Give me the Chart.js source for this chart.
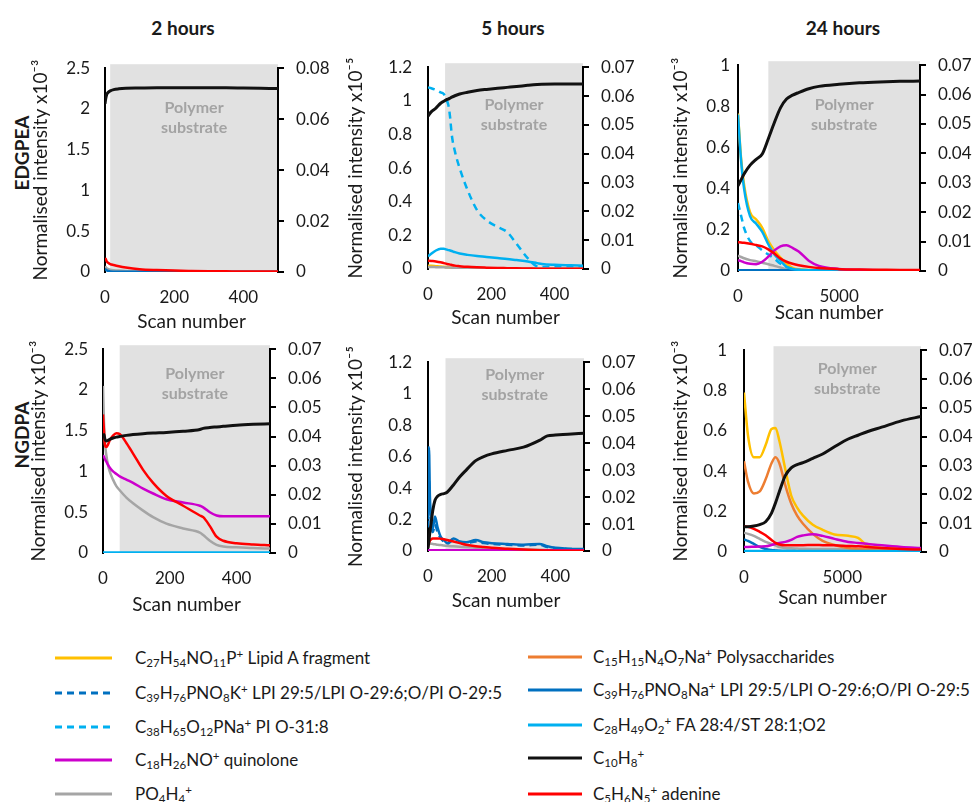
<!DOCTYPE html>
<html><head><meta charset="utf-8">
<script src="https://cdn.jsdelivr.net/npm/chart.js@4.4.1/dist/chart.umd.min.js"></script>
<style>
html,body{margin:0;padding:0;background:#fff}
body{width:974px;height:802px;position:relative;overflow:hidden;font-family:Lato,"Open Sans",sans-serif;color:#1a1a1a}
canvas{position:absolute}
.t{position:absolute;font-weight:bold;font-size:19px;white-space:nowrap;transform:translate(-50%,-50%)}
.rl{position:absolute;font-weight:bold;font-size:19px;white-space:nowrap;transform:translate(-50%,-50%) rotate(-90deg)}
.lg{position:absolute;height:24px;line-height:24px;font-size:17px;white-space:nowrap}
.lg svg{position:absolute;top:0}
sub{font-size:.68em;vertical-align:-.3em;line-height:0}
sup{font-size:.68em;vertical-align:.5em;line-height:0}
</style></head><body>
<div class="t" style="left:183px;top:27px">2 hours</div>
<div class="t" style="left:513px;top:27px">5 hours</div>
<div class="t" style="left:843px;top:27px">24 hours</div>
<div class="rl" style="left:21px;top:153px">EDGPEA</div>
<div class="rl" style="left:21px;top:435px">NGDPA</div>
<div id="legend"></div>
<script>
// ================= DATA =================
// x-axis tick labels
const TICKS_SHORT = [0,200,400];
const TICKS_LONG  = [0,5000];

// Panel A: 2 hours, EDGPEA
const A_scan  = [0,2,5,10,15,25,40,60,100,150,200,250,300,350,400,450,500];
const A_c10   = [0.066,0.068,0.0697,0.0706,0.0711,0.0716,0.0719,0.0721,0.0722,0.0723,0.0723,0.0723,0.0723,0.0723,0.0722,0.0721,0.072];
const A_aden  = [0.17,0.16,0.13,0.11,0.097,0.085,0.07,0.055,0.035,0.024,0.017,0.013,0.01,0.008,0.006,0.005,0.005];
const A_po4   = [0.07,0.06,0.045,0.035,0.028,0.022,0.017,0.013,0.01,0.008,0.006,0.005,0.004,0.004,0.003,0.003,0.003];
const A_lpiNa = [0.04,0.03,0.02,0.012,0.007,0.004,0.003,0.002,0.002,0.002,0.002,0.002,0.002,0.002,0.002,0.002,0.002];

// Panel B: 5 hours, EDGPEA
const B_scan  = [0,10,25,40,50,60,65,70,75,85,100,125,155,185,220,250,280,315,345,360,400,450,490];
const B_c10   = [0.053,0.0545,0.0558,0.0575,0.0582,0.0588,0.059,0.0593,0.0596,0.0601,0.0607,0.0613,0.0619,0.0623,0.0627,0.063,0.0633,0.0637,0.064,0.0641,0.0642,0.0642,0.0642];
const B_piO   = [1.08,1.075,1.065,1.05,1.04,1.0,0.97,0.9,0.8,0.7,0.6,0.47,0.35,0.29,0.25,0.22,0.15,0.065,0.015,0.012,0.012,0.012,0.012];
const B_fa    = [0.075,0.09,0.11,0.12,0.12,0.115,0.112,0.11,0.107,0.1,0.092,0.084,0.077,0.072,0.065,0.06,0.053,0.045,0.035,0.03,0.025,0.022,0.02];
const B_aden  = [0.05,0.048,0.045,0.04,0.035,0.03,0.028,0.026,0.024,0.02,0.017,0.013,0.01,0.008,0.006,0.005,0.004,0.003,0.002,0.002,0.002,0.002,0.002];
const B_lipidA= [0.02,0.019,0.017,0.015,0.013,0.011,0.01,0.009,0.008,0.007,0.006,0.005,0.004,0.003,0.003,0.002,0.002,0.002,0.002,0.002,0.002,0.002,0.002];
const B_po4   = [0.012,0.012,0.011,0.01,0.01,0.009,0.009,0.009,0.008,0.008,0.007,0.006,0.005,0.005,0.004,0.004,0.003,0.003,0.003,0.003,0.003,0.003,0.003];

// Panel C: 24 hours, EDGPEA
const C_scan  = [0,150,300,600,900,1200,1500,1800,2100,2400,2700,3000,3500,4000,5000,6000,7000,8000,9000];
const C_c10   = [0.029,0.031,0.033,0.036,0.038,0.0398,0.045,0.0505,0.0555,0.0585,0.0598,0.0607,0.062,0.0628,0.0635,0.064,0.0643,0.0645,0.0646];
const C_lipidA= [0.765,0.55,0.42,0.285,0.25,0.21,0.145,0.1,0.065,0.035,0.015,0.008,0.005,0.004,0.003,0.003,0.002,0.002,0.002];
const C_fa    = [0.76,0.54,0.4,0.265,0.23,0.19,0.13,0.08,0.05,0.02,0.01,0.006,0.004,0.003,0.003,0.002,0.002,0.002,0.002];
const C_piO   = [0.33,0.27,0.21,0.145,0.125,0.1,0.08,0.06,0.035,0.02,0.01,0.005,0.003,0.003,0.002,0.002,0.002,0.002,0.002];
const C_aden  = [0.14,0.139,0.137,0.132,0.126,0.12,0.105,0.085,0.06,0.045,0.035,0.028,0.02,0.014,0.009,0.007,0.006,0.005,0.005];
const C_quin  = [0.052,0.048,0.042,0.035,0.033,0.045,0.07,0.1,0.12,0.125,0.112,0.095,0.05,0.025,0.01,0.006,0.004,0.003,0.003];
const C_po4   = [0.075,0.068,0.062,0.053,0.047,0.04,0.033,0.025,0.017,0.01,0.007,0.005,0.004,0.003,0.003,0.003,0.003,0.003,0.003];
const C_lpiNa = [0.004,0.004,0.004,0.004,0.004,0.004,0.004,0.004,0.004,0.004,0.004,0.004,0.004,0.004,0.004,0.004,0.004,0.004,0.004];

// Panel D: 2 hours, NGDPA
const D_scan  = [0,3,6,10,15,20,30,40,50,70,90,120,150,190,240,290,300,320,340,360,400,450,500];
const D_c10   = [0.041,0.0405,0.039,0.0385,0.0387,0.039,0.0395,0.0398,0.04,0.0404,0.0407,0.041,0.0412,0.0414,0.0418,0.0424,0.0428,0.0431,0.0433,0.0435,0.0439,0.0442,0.0444];
const D_aden  = [1.7,1.5,1.32,1.3,1.33,1.38,1.44,1.47,1.46,1.35,1.22,1.02,0.86,0.7,0.58,0.46,0.44,0.33,0.2,0.15,0.12,0.105,0.095];
const D_quin  = [1.2,1.18,1.15,1.12,1.08,1.05,1.0,0.97,0.94,0.9,0.86,0.79,0.73,0.66,0.62,0.58,0.56,0.5,0.46,0.45,0.45,0.45,0.45];
const D_po4   = [2.05,1.6,1.35,1.2,1.08,1.0,0.9,0.82,0.77,0.68,0.61,0.52,0.44,0.36,0.3,0.25,0.22,0.15,0.1,0.08,0.07,0.06,0.055];
const D_fa    = [0.005,0.005,0.005,0.005,0.005,0.005,0.005,0.005,0.005,0.005,0.005,0.005,0.005,0.005,0.005,0.005,0.005,0.005,0.005,0.005,0.005,0.005,0.005];

// Panel E: 5 hours, NGDPA
const E_scan  = [0,3,6,10,15,22,30,40,50,60,80,100,120,150,175,200,250,300,350,375,400,440,490];
const E_c10   = [0.001,0.004,0.007,0.0105,0.015,0.0188,0.0203,0.021,0.0213,0.0218,0.0245,0.0275,0.03,0.0335,0.035,0.036,0.0373,0.0385,0.041,0.0427,0.043,0.0433,0.0437];
const E_lpiNa = [0.2,0.66,0.35,0.2,0.14,0.22,0.15,0.09,0.07,0.05,0.08,0.06,0.055,0.07,0.055,0.05,0.045,0.04,0.045,0.03,0.02,0.015,0.012];
const E_lpiK  = [0.15,0.45,0.28,0.17,0.12,0.17,0.12,0.08,0.06,0.045,0.07,0.055,0.05,0.06,0.05,0.045,0.04,0.035,0.04,0.025,0.018,0.013,0.01];
const E_aden  = [0.03,0.05,0.065,0.075,0.08,0.08,0.08,0.078,0.075,0.07,0.06,0.05,0.04,0.03,0.025,0.02,0.015,0.01,0.005,0.003,0.002,0.002,0.002];
const E_po4   = [0.05,0.05,0.048,0.046,0.045,0.043,0.04,0.038,0.035,0.033,0.03,0.027,0.024,0.02,0.018,0.016,0.012,0.01,0.008,0.007,0.006,0.005,0.005];
const E_quin  = [0.005,0.005,0.005,0.005,0.005,0.005,0.005,0.005,0.005,0.005,0.005,0.005,0.005,0.005,0.005,0.005,0.005,0.005,0.005,0.005,0.005,0.005,0.005];

// Panel F: 24 hours, NGDPA
const F_scan  = [0,200,500,800,1100,1400,1600,1800,2100,2400,2700,3000,3500,4000,4600,5300,5800,6300,7000,8000,9000];
const F_lipidA= [0.79,0.58,0.47,0.47,0.53,0.61,0.615,0.55,0.41,0.28,0.22,0.18,0.135,0.11,0.087,0.08,0.07,0.03,0.02,0.017,0.015];
const F_poly  = [0.45,0.35,0.29,0.3,0.36,0.44,0.47,0.44,0.33,0.24,0.18,0.14,0.09,0.055,0.035,0.02,0.015,0.012,0.01,0.01,0.01];
const F_c10   = [0.0088,0.0088,0.009,0.0095,0.0105,0.0135,0.017,0.021,0.0265,0.0292,0.0303,0.031,0.0325,0.034,0.0365,0.0392,0.0405,0.0418,0.0433,0.0455,0.047];
const F_aden  = [0.127,0.125,0.115,0.1,0.083,0.06,0.045,0.037,0.033,0.033,0.034,0.034,0.035,0.034,0.033,0.03,0.028,0.025,0.02,0.015,0.012];
const F_quin  = [0.025,0.025,0.026,0.027,0.028,0.035,0.04,0.045,0.05,0.06,0.075,0.082,0.088,0.08,0.065,0.05,0.045,0.04,0.033,0.025,0.02];
const F_po4   = [0.095,0.09,0.08,0.065,0.05,0.04,0.033,0.025,0.02,0.018,0.017,0.016,0.015,0.015,0.015,0.015,0.014,0.014,0.013,0.012,0.012];
const F_lpiNa = [0.063,0.055,0.04,0.025,0.015,0.01,0.008,0.006,0.005,0.005,0.004,0.004,0.004,0.004,0.004,0.004,0.004,0.004,0.004,0.004,0.004];
const F_fa    = [0.005,0.005,0.005,0.005,0.005,0.005,0.005,0.005,0.005,0.005,0.005,0.005,0.005,0.005,0.005,0.005,0.005,0.005,0.005,0.005,0.005];

// ================= STYLES =================
const SERIES = {
  lipidA:{label:'C27H54NO11P+ Lipid A fragment', html:'C<sub>27</sub>H<sub>54</sub>NO<sub>11</sub>P<sup>+</sup> Lipid A fragment', color:'#FFC000', dash:[], order:9},
  lpiK:  {label:'C39H76PNO8K+ LPI 29:5/LPI O-29:6;O/PI O-29:5', html:'C<sub>39</sub>H<sub>76</sub>PNO<sub>8</sub>K<sup>+</sup> LPI 29:5/LPI O-29:6;O/PI O-29:5', color:'#0070C0', dash:[7,5], order:8},
  piO:   {label:'C38H65O12PNa+ PI O-31:8', html:'C<sub>38</sub>H<sub>65</sub>O<sub>12</sub>PNa<sup>+</sup> PI O-31:8', color:'#00B0F0', dash:[7,5], order:7},
  quin:  {label:'C18H26NO+ quinolone', html:'C<sub>18</sub>H<sub>26</sub>NO<sup>+</sup> quinolone', color:'#CC00CC', dash:[], order:2},
  po4:   {label:'PO4H4+', html:'PO<sub>4</sub>H<sub>4</sub><sup>+</sup>', color:'#A5A5A5', dash:[], order:6},
  poly:  {label:'C15H15N4O7Na+ Polysaccharides', html:'C<sub>15</sub>H<sub>15</sub>N<sub>4</sub>O<sub>7</sub>Na<sup>+</sup> Polysaccharides', color:'#ED7D31', dash:[], order:5},
  lpiNa: {label:'C39H76PNO8Na+ LPI 29:5/LPI O-29:6;O/PI O-29:5', html:'C<sub>39</sub>H<sub>76</sub>PNO<sub>8</sub>Na<sup>+</sup> LPI 29:5/LPI O-29:6;O/PI O-29:5', color:'#0070C0', dash:[], order:4},
  fa:    {label:'C28H49O2+ FA 28:4/ST 28:1;O2', html:'C<sub>28</sub>H<sub>49</sub>O<sub>2</sub><sup>+</sup> FA 28:4/ST 28:1;O2', color:'#00B0F0', dash:[], order:3},
  c10:   {label:'C10H8+', html:'C<sub>10</sub>H<sub>8</sub><sup>+</sup>', color:'#111111', dash:[], order:0},
  aden:  {label:'C5H6N5+ adenine', html:'C<sub>5</sub>H<sub>6</sub>N<sub>5</sub><sup>+</sup> adenine', color:'#FF0000', dash:[], order:1}
};

const PANELS = [
  {plot:[105,57,278,272], xMax:500, xTicks:TICKS_SHORT, yMax:2.5, yStep:0.5, y2Max:0.08, y2Step:0.02, exp:'⁻³', shade:15, titleX:40, lpad:15, ty:40, xOff:50,
   scan:A_scan, series:{c10:A_c10, aden:A_aden, po4:A_po4, lpiNa:A_lpiNa}},
  {plot:[428,55,583,269], xMax:490, xTicks:TICKS_SHORT, yMax:1.2, yStep:0.2, y2Max:0.07, y2Step:0.01, exp:'⁻⁵', shade:54, titleX:355, lpad:16, ty:38, xOff:49,
   scan:B_scan, series:{c10:B_c10, piO:B_piO, fa:B_fa, aden:B_aden, lipidA:B_lipidA, po4:B_po4}},
  {plot:[738,57,920,271], xMax:9000, xTicks:TICKS_LONG, yMax:1, yStep:0.2, y2Max:0.07, y2Step:0.01, exp:'⁻³', shade:1500, titleX:680, lpad:8, ty:40, xOff:42,
   scan:C_scan, series:{c10:C_c10, lipidA:C_lipidA, fa:C_fa, piO:C_piO, aden:C_aden, quin:C_quin, po4:C_po4, lpiNa:C_lpiNa}},
  {plot:[103,338,270,553], xMax:500, xTicks:TICKS_SHORT, yMax:2.5, yStep:0.5, y2Max:0.07, y2Step:0.01, exp:'⁻³', shade:50, titleX:38, lpad:15, ty:25, xOff:52,
   scan:D_scan, series:{c10:D_c10, aden:D_aden, quin:D_quin, po4:D_po4, fa:D_fa}},
  {plot:[428,350,584,551], xMax:490, xTicks:TICKS_SHORT, yMax:1.2, yStep:0.2, y2Max:0.07, y2Step:0.01, exp:'⁻⁵', shade:55, titleX:355, lpad:16, ty:13, xOff:50,
   scan:E_scan, series:{c10:E_c10, lpiNa:E_lpiNa, lpiK:E_lpiK, aden:E_aden, po4:E_po4, quin:E_quin}},
  {plot:[744,337,921,552], xMax:9000, xTicks:TICKS_LONG, yMax:1, yStep:0.2, y2Max:0.07, y2Step:0.01, exp:'⁻³', shade:1500, titleX:680, lpad:17, ty:19, xOff:46,
   scan:F_scan, series:{c10:F_c10, lipidA:F_lipidA, poly:F_poly, aden:F_aden, quin:F_quin, po4:F_po4, lpiNa:F_lpiNa, fa:F_fa}}
];

const LEGEND_LEFT = ['lipidA','lpiK','piO','quin','po4'];
const LEGEND_RIGHT = ['poly','lpiNa','fa','c10','aden'];

// ================= RENDER =================
Chart.defaults.font.family = 'Lato, "Open Sans", sans-serif';
Chart.defaults.color = '#1a1a1a';
const fmt = v => String(+Number(v).toFixed(4));

const shadePlugin = {
  id:'shade',
  beforeDraw(chart, args, o){
    const {ctx, chartArea, scales} = chart;
    const x0 = scales.x.getPixelForValue(o.start);
    ctx.save();
    ctx.fillStyle = '#E1E1E1';
    ctx.fillRect(x0, chartArea.top - 4, chartArea.right - x0, chartArea.bottom - chartArea.top + 4);
    ctx.fillStyle = '#A3A3A3';
    ctx.font = 'bold 16px Lato, "Open Sans", sans-serif';
    ctx.textAlign = 'center'; ctx.textBaseline = 'middle';
    const cx = (x0 + chartArea.right) / 2;
    ctx.fillText('Polymer', cx, chartArea.top + o.ty);
    ctx.fillText('substrate', cx, chartArea.top + o.ty + 20);
    ctx.restore();
  }
};

function makePanel(p){
  const [L,T,R,B] = p.plot;
  const LH = 19*1.2/2;
  const LW = Math.round(L - (p.titleX - LH));
  const RW = 62, TP = 14, XH = Math.round(p.xOff + LH);
  const c = document.createElement('canvas');
  c.width = LW + (R-L) + RW; c.height = TP + (B-T) + XH;
  c.style.left = (L-LW)+'px'; c.style.top = (T-TP)+'px';
  document.body.appendChild(c);
  const datasets = Object.keys(p.series).map(k => {
    const s = SERIES[k];
    return {label:s.label, data:p.scan.map((x,i)=>({x:x, y:p.series[k][i]})),
      borderColor:s.color, borderDash:s.dash, borderWidth:k==='c10'?3:2.5,
      yAxisID:k==='c10'?'y2':'y', order:s.order, pointRadius:0,
      cubicInterpolationMode:'monotone', fill:false};
  });
  new Chart(c, {
    type:'line', data:{datasets}, plugins:[shadePlugin],
    options:{
      responsive:false, animation:false, devicePixelRatio:1,
      layout:{padding:{top:TP,left:0,right:0,bottom:0}},
      plugins:{legend:{display:false}, tooltip:{enabled:false}, shade:{start:p.shade, ty:p.ty}},
      scales:{
        x:{type:'linear', min:0, max:p.xMax,
           grid:{display:false, drawTicks:false}, border:{display:false},
           afterBuildTicks:s=>{ s.ticks = p.xTicks.map(v=>({value:v})); },
           ticks:{padding:15, maxRotation:0, autoSkip:false, font:{size:17}, callback:fmt},
           title:{display:true, text:'Scan number', font:{size:19}, padding:0},
           afterFit:s=>{s.height = XH;}},
        y:{position:'left', min:0, max:p.yMax,
           grid:{display:false, drawTicks:false}, border:{display:true, color:'#000', width:2},
           ticks:{stepSize:p.yStep, padding:p.lpad, font:{size:17}, callback:fmt},
           title:{display:true, text:'Normalised intensity x10'+p.exp, font:{size:19}, padding:0},
           afterFit:s=>{s.width = LW;}},
        y2:{position:'right', min:0, max:p.y2Max,
           grid:{display:true, drawOnChartArea:false, drawTicks:true, tickLength:6, color:'#000', lineWidth:2},
           border:{display:true, color:'#000', width:2},
           ticks:{stepSize:p.y2Step, padding:12, font:{size:17}, callback:fmt},
           afterFit:s=>{s.width = RW;}}
      }
    }
  });
}
PANELS.forEach(makePanel);

// legend (HTML, real text with sub/superscripts)
function legendItem(k, lineL, lineW, textL, cy){
  const s = SERIES[k];
  const d = document.createElement('div');
  d.className = 'lg';
  d.style.left = lineL+'px'; d.style.top = (cy-12)+'px';
  const dash = s.dash.length ? `stroke-dasharray="${s.dash.join(',')}"` : '';
  d.innerHTML = `<svg width="${lineW}" height="24" style="left:0"><line x1="0" y1="12" x2="${lineW}" y2="12" stroke="${s.color}" stroke-width="3" ${dash}/></svg>`+
                `<span style="position:absolute;left:${textL-lineL}px;top:0">${s.html}</span>`;
  document.getElementById('legend').appendChild(d);
}
const leftY = [658,693,727,760,794], rightY = [657,690,725,758,794];
LEGEND_LEFT.forEach((k,i)=>legendItem(k,55,57,135,leftY[i]));
LEGEND_RIGHT.forEach((k,i)=>legendItem(k,528,54,593,rightY[i]));
</script>
</body></html>
